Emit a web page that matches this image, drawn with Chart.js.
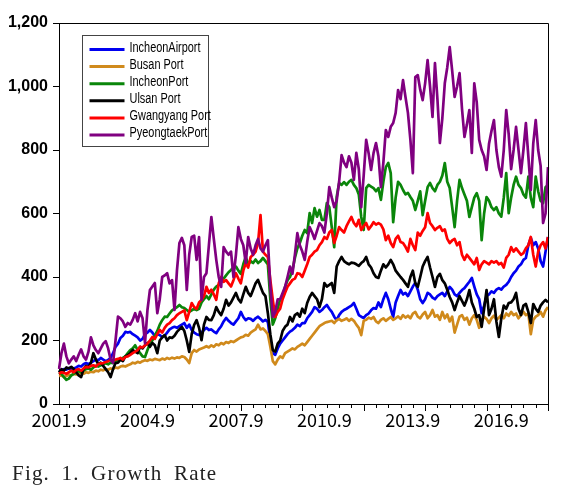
<!DOCTYPE html>
<html><head><meta charset="utf-8">
<script src="https://cdn.jsdelivr.net/npm/chart.js@4.4.1/dist/chart.umd.min.js"></script>
<style>
html,body{margin:0;padding:0;background:#fff;width:567px;height:493px;overflow:hidden;}
#wrap{position:relative;width:567px;height:493px;}
#caption{position:absolute;left:12px;top:461px;font-family:"Liberation Serif",serif;font-size:21px;letter-spacing:1.2px;word-spacing:5px;color:#222;white-space:nowrap;}
</style></head><body>
<div id="wrap"><canvas id="c" width="567" height="493"></canvas><div id="caption">Fig. 1. Growth Rate</div></div>
<script>
// ---- data ----
const startYear = 2001, startMonth = 9, nMonths = 200;
const months = [];
for (let k = 0; k < nMonths; k++) {
  const m = startMonth - 1 + k;
  months.push((startYear + Math.floor(m / 12)) + '.' + (m % 12 + 1));
}
const tickLabels = ['2001.9', '2004.9', '2007.9', '2010.9', '2013.9', '2016.9'];
const yTicks = [0, 200, 400, 600, 800, 1000, 1200];
const seriesNames = ['IncheonAirport', 'Busan Port', 'IncheonPort', 'Ulsan Port', 'Gwangyang Port', 'PyeongtaekPort'];

const incheonAirport = [
  100,105,110,108,113,110,112,115,120,118,
  125,129,125,130,135,140,138,145,140,135,
  139,145,160,180,190,208,215,227,225,227,
  220,215,210,200,205,220,225,233,225,215,
  220,217,210,215,225,235,240,243,240,245,
  250,255,240,250,233,225,220,217,225,233,
  240,233,235,228,223,235,245,260,271,262,
  255,250,260,270,290,274,264,270,268,262,
  270,275,268,260,265,258,200,160,155,175,
  190,200,210,220,228,233,240,250,245,255,
  255,270,280,290,305,300,290,296,305,312,
  300,290,275,264,280,290,296,300,305,310,
  318,300,280,275,271,280,285,295,302,300,
  320,305,330,350,330,300,274,320,340,359,
  345,350,340,355,370,381,360,330,318,330,
  350,345,335,330,340,345,350,340,355,369,
  360,345,340,350,359,365,375,385,397,370,
  345,330,286,310,340,345,355,350,360,365,
  360,370,375,385,400,412,420,433,440,454,
  460,500,523,500,510,490,450,433,480,526
];
const busanPort = [
  88,90,85,88,92,90,95,93,96,98,
  95,100,98,102,100,105,103,108,106,110,
  108,112,110,115,113,118,120,118,122,125,
  130,128,133,130,135,138,136,140,138,142,
  140,138,143,140,145,142,146,143,147,145,
  150,148,140,129,160,170,165,172,175,178,
  182,178,185,180,188,185,192,188,195,192,
  198,195,200,205,210,212,218,215,225,230,
  235,250,235,238,230,220,180,135,125,140,
  150,145,160,165,170,175,172,180,185,190,
  185,195,205,215,225,235,245,250,255,258,
  260,262,255,264,268,262,265,270,262,268,
  262,250,240,217,262,265,272,268,274,260,
  255,265,270,262,268,274,265,270,276,268,
  280,272,278,270,285,290,275,270,282,290,
  270,280,296,275,280,265,290,270,282,260,
  275,225,250,275,280,265,272,250,270,280,
  265,240,260,275,268,255,270,278,265,272,
  280,270,285,278,290,280,285,270,280,290,
  280,285,220,265,275,280,290,275,295,305
];
const incheonPort = [
  100,95,85,76,80,90,95,100,105,100,
  105,110,112,108,115,120,118,122,125,128,
  125,130,129,135,138,140,145,150,160,170,
  175,185,170,160,150,148,170,190,200,215,
  230,250,264,275,274,285,295,300,305,312,
  305,302,296,290,295,300,296,300,320,330,
  340,330,345,360,370,375,384,395,405,415,
  422,430,433,420,410,440,463,440,450,444,
  455,444,450,460,450,440,330,250,270,300,
  330,340,369,390,400,422,460,490,507,530,
  548,538,601,570,617,590,611,580,580,633,
  620,557,494,652,696,690,699,690,700,706,
  690,680,660,589,548,680,690,685,680,670,
  680,643,700,746,759,727,573,650,700,690,
  674,660,665,652,640,611,640,670,595,640,
  683,696,680,670,690,700,720,759,700,680,
  620,557,640,706,680,660,640,589,620,650,
  664,640,516,600,652,640,620,611,620,600,
  590,650,727,601,650,690,716,690,680,660,
  650,716,650,620,716,670,640,633,683,690
];
const ulsanPort = [
  100,110,105,115,112,117,110,100,90,85,
  110,120,115,130,160,140,125,130,120,110,
  100,85,110,129,130,140,135,150,154,160,
  170,165,160,180,175,185,192,180,192,185,
  160,200,210,217,200,210,208,215,227,235,
  243,230,200,164,220,249,264,240,201,250,
  274,265,264,280,305,290,280,300,328,310,
  320,335,350,330,320,345,369,350,340,360,
  380,391,370,350,340,286,220,170,165,190,
  200,230,243,250,274,260,280,286,275,300,
  286,318,337,350,340,330,305,330,381,370,
  375,381,350,433,450,463,450,444,440,445,
  444,440,435,444,450,463,440,430,412,400,
  397,420,440,430,440,454,440,420,410,400,
  391,380,369,400,420,380,369,400,433,450,
  463,430,400,369,400,410,390,380,360,337,
  320,296,320,340,325,310,330,359,320,300,
  274,280,243,300,359,280,300,330,260,211,
  270,310,300,318,320,330,350,300,280,310,
  315,290,255,315,300,290,310,320,328,320
];
const gwangyangPort = [
  95,100,98,95,100,105,100,107,110,105,
  112,117,115,120,122,118,125,128,129,132,
  135,139,136,140,142,145,140,148,150,155,
  160,165,170,180,178,185,190,200,211,205,
  220,233,225,240,250,255,264,270,280,286,
  290,295,264,290,318,305,300,320,328,340,
  369,350,360,345,328,380,400,385,390,380,
  370,390,412,395,380,420,444,430,463,470,
  480,507,595,480,470,463,390,328,274,290,
  300,330,350,369,380,391,395,412,410,400,
  420,440,463,470,480,485,500,510,526,520,
  540,548,507,530,557,548,540,560,575,589,
  570,560,580,548,560,570,550,560,573,565,
  570,565,550,516,530,507,494,520,530,510,
  507,495,480,520,500,485,540,530,545,557,
  601,570,560,548,555,560,545,550,520,507,
  515,520,500,510,470,454,470,460,450,440,
  460,422,440,450,445,440,450,445,450,440,
  444,430,460,470,494,480,490,480,470,475,
  490,500,526,470,433,480,500,510,490,526
];
const pyeongtaekPort = [
  110,160,190,150,128,140,150,135,155,172,
  150,140,165,210,185,170,160,175,190,198,
  175,140,130,200,275,270,260,243,255,250,
  265,286,260,290,270,192,296,359,370,381,
  286,330,400,405,412,380,390,296,420,507,
  523,500,359,470,526,530,454,526,328,400,
  412,500,589,520,454,400,369,494,480,470,
  480,400,470,557,520,500,444,526,490,470,
  500,520,490,480,500,516,369,274,290,330,
  330,350,369,400,433,410,470,538,500,480,
  454,510,557,540,520,545,570,560,540,600,
  683,650,620,640,700,784,760,746,780,760,
  706,791,740,620,720,832,790,737,790,822,
  780,683,760,863,841,873,885,917,989,960,
  1020,967,917,832,727,1030,1036,990,957,1010,
  1083,1000,904,1074,960,822,900,1010,1060,1124,
  1050,967,1000,1042,930,841,880,926,791,1010,
  950,832,800,780,737,820,860,894,800,746,
  716,800,926,850,740,800,873,800,727,800,
  885,780,674,820,894,800,750,570,600,746
];
const seriesValues = [incheonAirport, busanPort, incheonPort, ulsanPort, gwangyangPort, pyeongtaekPort];
const seriesColors = ['#0000F0', '#D08A1C', '#0A860A', '#000000', '#FF0000', '#800080'];

// ---- plugins ----
const frameAndTicks = {
  id: 'frameAndTicks',
  afterDraw(chart) {
    const { ctx, chartArea: a, scales: { x } } = chart;
    ctx.save();
    ctx.strokeStyle = '#000';
    ctx.lineWidth = 1;
    ctx.beginPath();
    ctx.moveTo(a.left, a.top + 0.5);
    ctx.lineTo(a.right + 0.5, a.top + 0.5);
    ctx.lineTo(a.right + 0.5, a.bottom + 7);
    ctx.stroke();
    for (let i = nMonths - 1; i >= 0; i -= 5) {
      const px = Math.round(x.getPixelForValue(i)) + 0.5;
      const len = ((nMonths - 1 - i) % 25 === 0) ? 7 : 4;
      ctx.beginPath();
      ctx.moveTo(px, a.bottom);
      ctx.lineTo(px, a.bottom + len);
      ctx.stroke();
    }
    ctx.restore();
  }
};
const boxLegend = {
  id: 'boxLegend',
  afterDraw(chart) {
    const { ctx, chartArea: a } = chart;
    const x0 = a.left + 23.5, y0 = a.top + 12.5, w = 126, h = 111;
    ctx.save();
    ctx.fillStyle = '#fff';
    ctx.fillRect(x0, y0, w, h);
    ctx.strokeStyle = '#444';
    ctx.lineWidth = 1;
    ctx.strokeRect(x0, y0, w, h);
    ctx.font = '14px "Liberation Sans", sans-serif';
    ctx.textBaseline = 'middle';
    chart.data.datasets.forEach((ds, k) => {
      const y = y0 + 14 + k * 17.1;
      ctx.strokeStyle = ds.borderColor;
      ctx.lineWidth = 3;
      ctx.beginPath();
      ctx.moveTo(x0 + 7, y);
      ctx.lineTo(x0 + 42, y);
      ctx.stroke();
      ctx.save();
      ctx.translate(x0 + 47, y - 1.5);
      ctx.scale(0.78, 1);
      ctx.fillStyle = '#000';
      ctx.fillText(ds.label, 0, 0);
      ctx.restore();
    });
    ctx.restore();
  }
};

new Chart(document.getElementById('c'), {
  type: 'line',
  data: {
    labels: months,
    datasets: seriesNames.map((name, k) => ({
      label: name,
      data: seriesValues[k],
      borderColor: seriesColors[k],
      backgroundColor: seriesColors[k],
      borderWidth: 2.7,
      pointRadius: 0,
      tension: 0,
      fill: false,
      borderJoinStyle: 'round',
      order: seriesNames.length - 1 - k
    }))
  },
  options: {
    responsive: false,
    devicePixelRatio: 1,
    animation: false,
    layout: { padding: { top: 23, right: 19, left: 0, bottom: 0 } },
    plugins: { legend: { display: false }, tooltip: { enabled: false } },
    scales: {
      x: {
        type: 'category',
        ticks: {
          autoSkip: false, maxRotation: 0, minRotation: 0, padding: 5, color: '#000',
          font: { family: '"Noto Sans CJK JP", sans-serif', size: 18 },
          callback(val) { const lab = this.getLabelForValue(val); return tickLabels.includes(lab) ? lab : null; }
        },
        grid: { display: true, drawOnChartArea: false, drawTicks: false },
        border: { display: true, color: '#000', width: 1 },
        afterFit(s) { s.height = 89; }
      },
      y: {
        min: 0, max: 1200,
        afterBuildTicks(s) { s.ticks = yTicks.map(v => ({ value: v })); },
        ticks: {
          padding: 5, color: '#000',
          font: { family: '"Liberation Sans", sans-serif', size: 16, weight: 'bold' },
          callback: v => v.toLocaleString('en-US')
        },
        grid: { drawOnChartArea: false, drawTicks: true, tickLength: 6, tickColor: '#000' },
        border: { display: true, color: '#000', width: 1 },
        afterFit(s) { s.width = 59; }
      }
    }
  },
  plugins: [frameAndTicks, boxLegend]
});
</script>
</body></html>
